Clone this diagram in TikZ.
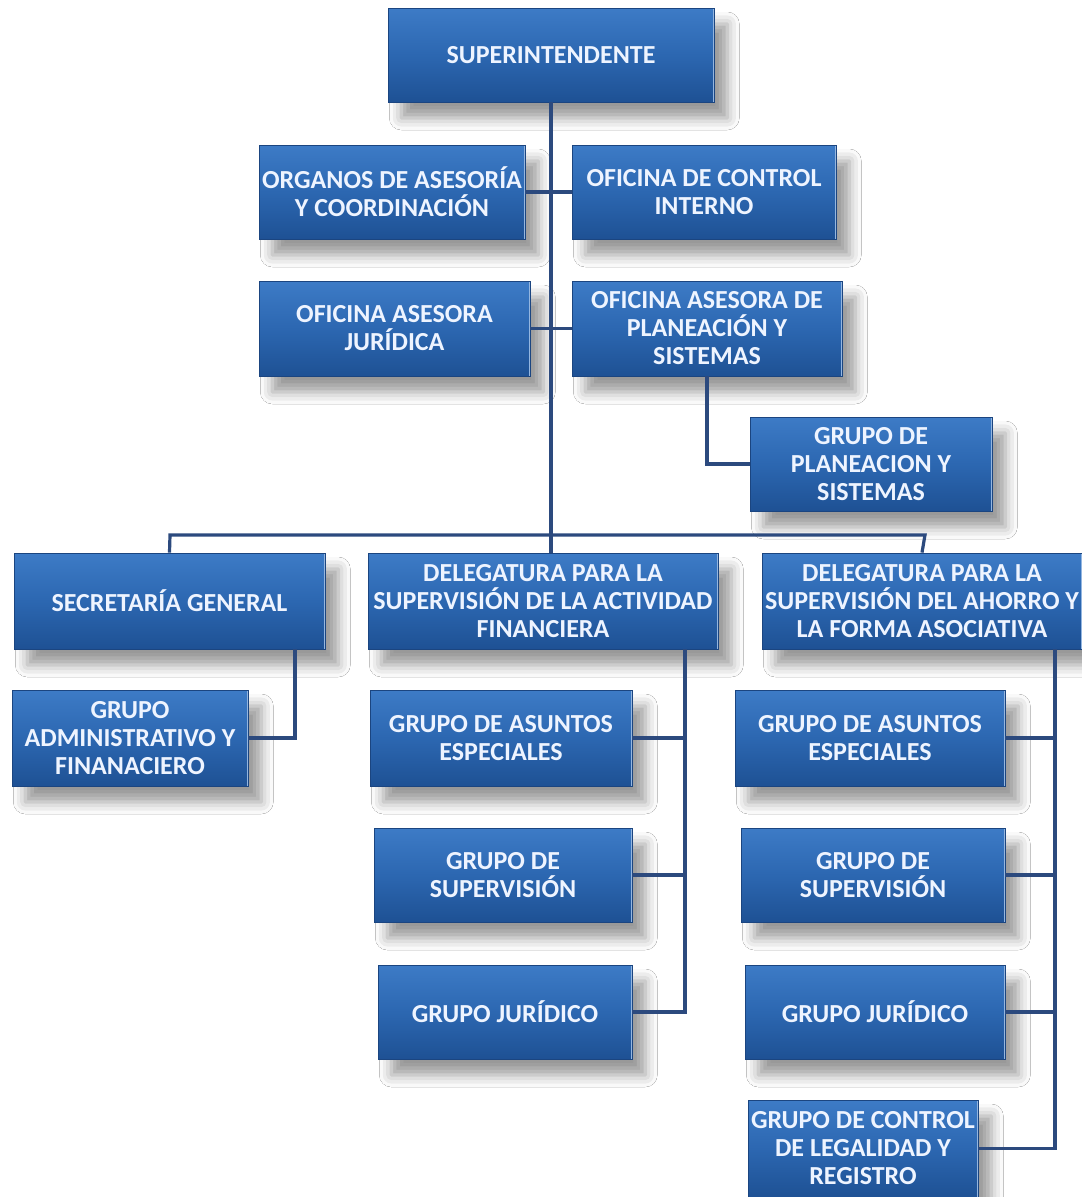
\documentclass[tikz,border=0pt]{standalone}
\usepackage{fontspec}
\setmainfont{Carlito}
\usetikzlibrary{shadows.blur}
\definecolor{boxtop}{HTML}{3D7BC6}
\definecolor{boxmid}{HTML}{2C67B1}
\definecolor{boxbot}{HTML}{1E5194}
\definecolor{boxedge}{HTML}{1B4580}
\definecolor{linkc}{HTML}{2C4A7E}
\definecolor{txt}{HTML}{EEF4FF}
\tikzset{
  box/.style 2 args={rectangle, inner sep=0pt, align=center,
    minimum width=#1*0.75pt, minimum height=#2*0.75pt,
    top color=boxtop, bottom color=boxbot, middle color=boxmid,
    draw=boxedge, line width=0.6pt,
    text=txt, font=\fontsize{19.5}{21}\selectfont\bfseries,
    blur shadow={shadow xshift=10pt, shadow yshift=-12pt, shadow blur radius=9pt, shadow opacity=40},
    path picture={
      \draw[white!55!boxtop, line width=2.2pt]
        (path picture bounding box.north west) -- (path picture bounding box.north east);
      \draw[white!45!boxtop, line width=1.6pt]
        (path picture bounding box.north east) -- (path picture bounding box.south east);
    }},
  link/.style={draw=linkc, line width=2.4pt}
}
\begin{document}
\begin{tikzpicture}[x=0.75pt, y=-0.75pt]
\path[fill=white, use as bounding box] (0,0) rectangle (1082,1197);

\coordinate (busL) at (170,535);
\coordinate (busR) at (925,535);
\coordinate (sgd) at (295,649);
\coordinate (dafd) at (685,649);
\coordinate (daad) at (1055,649);

\node[box={326}{94}] (sup) at (551,55) {SUPERINTENDENTE};
\node[box={266}{94}] (org) at (392,192) {ORGANOS DE ASESORÍA\\Y COORDINACIÓN};
\node[box={264}{94}] (oci) at (704,192) {OFICINA DE CONTROL\\INTERNO};
\node[box={271}{95}] (oaj) at (394.5,328.5) {OFICINA ASESORA\\JURÍDICA};
\node[box={270}{95}] (oap) at (707,328.5) {OFICINA ASESORA DE\\PLANEACIÓN Y\\SISTEMAS};
\node[box={242}{94}] (gps) at (871,464) {GRUPO DE\\PLANEACION Y\\SISTEMAS};
\node[box={311}{96}] (sg) at (169.5,601) {SECRETARÍA GENERAL};
\node[box={350}{96}] (daf) at (543,601) {DELEGATURA PARA LA\\SUPERVISIÓN DE LA ACTIVIDAD\\FINANCIERA};
\node[box={320}{96}] (daa) at (922,601) {DELEGATURA PARA LA\\SUPERVISIÓN DEL AHORRO Y\\LA FORMA ASOCIATIVA};
\node[box={236}{96}] (gaf) at (130,738) {GRUPO\\ADMINISTRATIVO Y\\FINANACIERO};
\node[box={262}{96}] (gae1) at (501,738) {GRUPO DE ASUNTOS\\ESPECIALES};
\node[box={258}{94}] (gs1) at (503,875) {GRUPO DE\\SUPERVISIÓN};
\node[box={254}{94}] (gj1) at (505,1012) {GRUPO JURÍDICO};
\node[box={270}{96}] (gae2) at (870,738) {GRUPO DE ASUNTOS\\ESPECIALES};
\node[box={264}{94}] (gs2) at (873,875) {GRUPO DE\\SUPERVISIÓN};
\node[box={260}{94}] (gj2) at (875,1012) {GRUPO JURÍDICO};
\node[box={230}{97}] (gcl) at (863,1148.5) {GRUPO DE CONTROL\\DE LEGALIDAD Y\\REGISTRO};

\draw[link] (sup.south) -- (sup.south |- daf.north);
\draw[link] (org.east) -- (oci.west);
\draw[link] (oaj.east) -- (oap.west);
\draw[link] (oap.south) |- (gps.west);
\draw[link] (sg.north) -- (busL) -- (busR) -- (daa.north);
\draw[link] (sgd) |- (gaf.east);
\draw[link] (dafd) |- (gj1.east);
\draw[link] (gae1.east) -- (gae1.east -| dafd);
\draw[link] (gs1.east) -- (gs1.east -| dafd);
\draw[link] (daad) |- (gcl.east);
\draw[link] (gae2.east) -- (gae2.east -| daad);
\draw[link] (gs2.east) -- (gs2.east -| daad);
\draw[link] (gj2.east) -- (gj2.east -| daad);
\end{tikzpicture}
\end{document}
